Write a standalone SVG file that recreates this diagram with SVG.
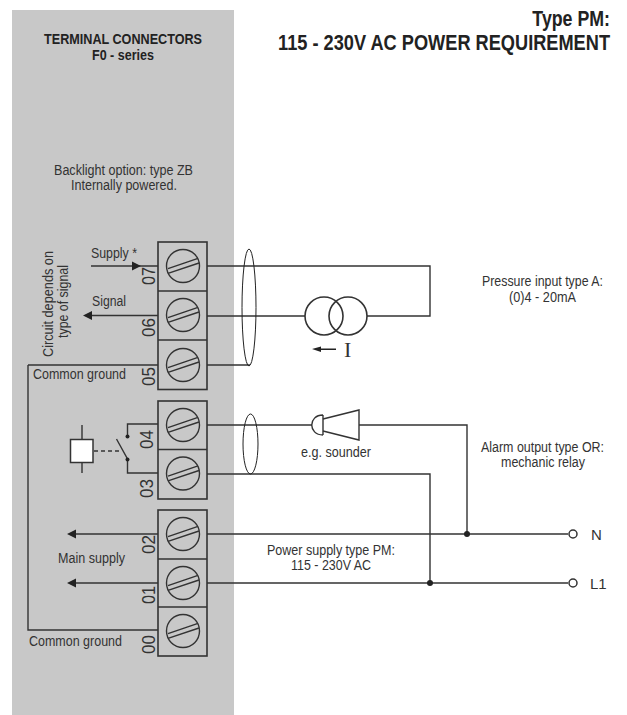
<svg xmlns="http://www.w3.org/2000/svg" width="627" height="715" viewBox="0 0 627 715">
<style>
text{font-family:"Liberation Sans",Arial,sans-serif;font-size:14.700px;fill:#333;}
.h{font-weight:bold;fill:#222;}
.hh{font-size:22.500px;}
.b{fill:none;stroke:#333;stroke-width:1.6;}
.w{fill:none;stroke:#333;stroke-width:1.4;}
.t{fill:none;stroke:#222;stroke-width:1;}
.d{fill:#222;stroke:none;}
.num{font-size:19px;}
</style>
<defs>
<g id="screw"><circle r="16.5" class="w"/><path d="M-15 2.6L15-7.6M-15 7.4L16-3" class="w"/></g>
</defs>
<rect id="panel" x="12" y="10" width="222" height="705" fill="#c8c8c8"/>
<g id="connectors">
<path class="w" d="M207 266H430V316H367M207 316H305M207 365H250"/>
<path class="w" d="M91 266H158M92 315.500H158M28 365H158M28 365V630H158"/>
<path class="w" d="M207 425H312M359 425H467V534M207 474H430V583"/>
<path class="w" d="M207 534H568M207 583H568"/>
<path class="w" d="M76 534H158M76 583H158"/>
<path class="d" d="M141 266L132 261.500V270.500Z"/>
<path class="d" d="M83 315.500L92 311V320Z"/>
<path class="d" d="M67 534L76 529.500V538.500Z"/>
<path class="d" d="M67 583L76 578.500V587.500Z"/>
<circle class="d" cx="467" cy="534" r="3"/>
<circle class="d" cx="430" cy="583" r="3"/>
<circle cx="573" cy="534" r="4" fill="#fff" stroke="#333" stroke-width="1.500"/>
<circle cx="573" cy="583" r="4" fill="#fff" stroke="#333" stroke-width="1.500"/>
<ellipse cx="249" cy="307.500" rx="7" ry="58.500" class="t"/>
<ellipse cx="250.500" cy="444" rx="7.500" ry="30" class="t"/>
</g>
<g id="relay">
<rect x="70.500" y="439.500" width="22.500" height="23" fill="#fff" stroke="#333" stroke-width="1.500"/>
<path class="w" d="M82 425V439M82 463V473"/>
<path class="w" stroke-dasharray="4 3" d="M94 451H119"/>
<path class="w" d="M158 424H127.500V436M158 473H127.500V459L116.500 439"/>
<circle class="d" cx="127.500" cy="436.500" r="2"/>
<circle class="d" cx="127.500" cy="459.500" r="2"/>
</g>
<g id="terminals-07-05">
<rect x="158" y="242" width="49" height="147.500" class="b"/>
<path class="b" d="M158 291H207M158 340H207"/>
<use href="#screw" x="183" y="266"/><use href="#screw" x="183" y="315"/><use href="#screw" x="183" y="365"/>
<text class="num" textLength="18" lengthAdjust="spacingAndGlyphs" transform="translate(155 285) rotate(-90)">07</text>
<text class="num" textLength="19" lengthAdjust="spacingAndGlyphs" transform="translate(155 337) rotate(-90)">06</text>
<text class="num" textLength="19" lengthAdjust="spacingAndGlyphs" transform="translate(155 386) rotate(-90)">05</text>
</g>
<g id="terminals-04-03">
<rect x="158" y="401" width="49" height="98" class="b"/>
<path class="b" d="M158 449.500H207"/>
<use href="#screw" x="183" y="425"/><use href="#screw" x="183" y="473.500"/>
<text class="num" textLength="19" lengthAdjust="spacingAndGlyphs" transform="translate(153 449) rotate(-90)">04</text>
<text class="num" textLength="19" lengthAdjust="spacingAndGlyphs" transform="translate(153 498) rotate(-90)">03</text>
</g>
<g id="terminals-02-00">
<rect x="158" y="510" width="49" height="146" class="b"/>
<path class="b" d="M158 559H207M158 607H207"/>
<use href="#screw" x="183" y="534"/><use href="#screw" x="183" y="583"/><use href="#screw" x="183" y="631"/>
<text class="num" textLength="19" lengthAdjust="spacingAndGlyphs" transform="translate(155 554) rotate(-90)">02</text>
<text class="num" textLength="18" lengthAdjust="spacingAndGlyphs" transform="translate(155 604) rotate(-90)">01</text>
<text class="num" textLength="19" lengthAdjust="spacingAndGlyphs" transform="translate(155 654) rotate(-90)">00</text>
</g>
<g id="transmitter">
<circle cx="324" cy="316" r="19" class="b"/>
<circle cx="348" cy="316" r="19" class="b"/>
<path class="d" d="M312 349L321 346.500V348.500H336V350H321V352Z"/>
<text x="344" y="357" style="font-family:'Liberation Serif',serif;font-size:22px;fill:#333">I</text>
</g>
<g id="sounder">
<path class="w" d="M323 415V435M323 415C308 415 308 435 323 435"/>
<path class="w" d="M323 419L359 410V440L323 431"/>
</g>
<g id="labels">
<text class="h" x="44" y="44" textLength="158" lengthAdjust="spacingAndGlyphs">TERMINAL CONNECTORS</text>
<text class="h" x="92" y="60" textLength="62" lengthAdjust="spacingAndGlyphs">F0 - series</text>
<text class="h hh" transform="translate(610 26) scale(.79 1)" text-anchor="end">Type PM:</text>
<text class="h hh" transform="translate(610 50) scale(.809 1)" text-anchor="end">115 - 230V AC POWER REQUIREMENT</text>
<text x="54" y="175" textLength="139" lengthAdjust="spacingAndGlyphs">Backlight option: type ZB</text>
<text x="71" y="190" textLength="106" lengthAdjust="spacingAndGlyphs">Internally powered.</text>
<text x="91" y="258" textLength="46" lengthAdjust="spacingAndGlyphs">Supply *</text>
<text x="92" y="306" textLength="34" lengthAdjust="spacingAndGlyphs">Signal</text>
<text x="33" y="379" textLength="93" lengthAdjust="spacingAndGlyphs">Common ground</text>
<text x="29" y="646" textLength="93" lengthAdjust="spacingAndGlyphs">Common ground</text>
<text x="58" y="563" textLength="67" lengthAdjust="spacingAndGlyphs">Main supply</text>
<text transform="translate(53 357) rotate(-90)" textLength="106" lengthAdjust="spacingAndGlyphs">Circuit depends on</text>
<text transform="translate(67.500 338) rotate(-90)" textLength="73" lengthAdjust="spacingAndGlyphs">type of signal</text>
<text x="482" y="286" textLength="121" lengthAdjust="spacingAndGlyphs">Pressure input type A:</text>
<text x="509" y="302" textLength="67" lengthAdjust="spacingAndGlyphs">(0)4 - 20mA</text>
<text x="301" y="457" textLength="70" lengthAdjust="spacingAndGlyphs">e.g. sounder</text>
<text x="481" y="452" textLength="123" lengthAdjust="spacingAndGlyphs">Alarm output type OR:</text>
<text x="501" y="467" textLength="84" lengthAdjust="spacingAndGlyphs">mechanic relay</text>
<text x="267" y="555" textLength="128" lengthAdjust="spacingAndGlyphs">Power supply type PM:</text>
<text x="291" y="570" textLength="80" lengthAdjust="spacingAndGlyphs">115 - 230V AC</text>
<text x="591" y="540" style="font-size:15px">N</text>
<text x="590" y="589" style="font-size:15px">L1</text>
</g>
</svg>
